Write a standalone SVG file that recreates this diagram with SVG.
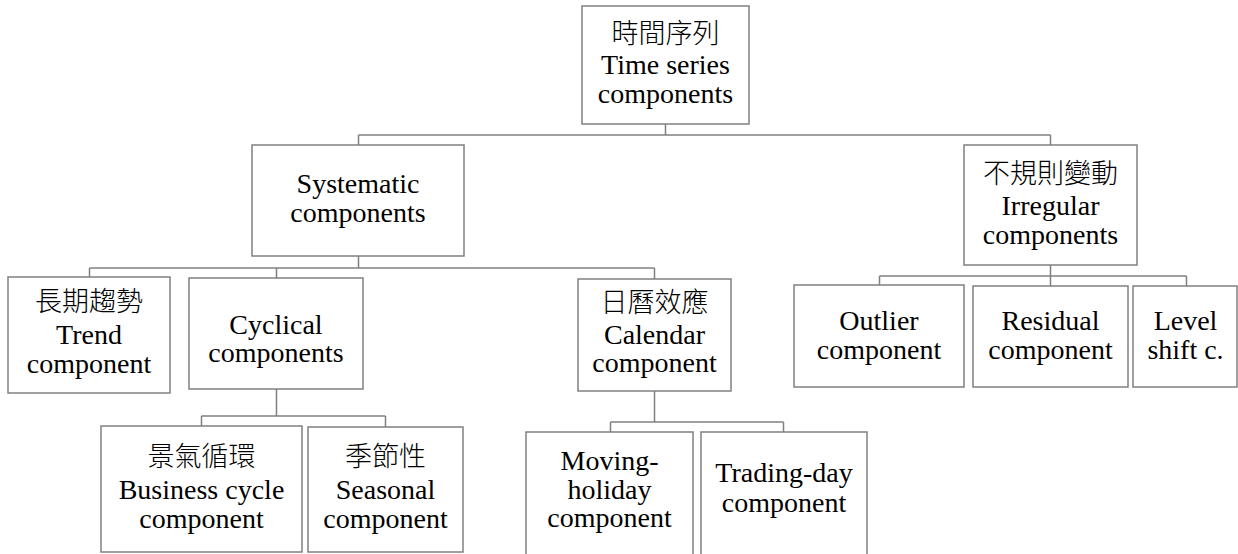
<svg xmlns="http://www.w3.org/2000/svg" width="1238" height="554" viewBox="0 0 1238 554">
  <style>
    .box { fill: #ffffff; stroke: #808080; stroke-width: 1.5; }
    .wire { fill: none; stroke: #808080; stroke-width: 1.5; }
    text { font-family: "Liberation Serif", "Noto Sans CJK TC", serif; font-size: 28px; fill: #000000; text-anchor: middle; }
    .cjk { font-family: "Noto Sans CJK TC", "Liberation Serif", sans-serif; font-size: 27px; font-weight: 300; }
  </style>
  <rect x="0" y="0" width="1238" height="554" fill="#ffffff"/>

  <!-- tree connectors -->
  <g id="connectors" class="wire">
    <path d="M665.5 124 V135 M358.5 135 H1050.5 M358.5 135 V145 M1050.5 135 V145"/>
    <path d="M358.5 256 V268 M89.5 268 H654.5 M89.5 268 V277 M276.5 268 V278 M654.5 268 V279"/>
    <path d="M276.5 389 V416 M201.5 416 H385.5 M201.5 416 V426 M385.5 416 V427"/>
    <path d="M654.5 391 V422 M610.5 422 H783.5 M610.5 422 V432 M783.5 422 V432"/>
    <path d="M1050.5 265 V276 M879.5 276 H1186.5 M879.5 276 V285 M1050.5 276 V286 M1186.5 276 V286"/>
  </g>

  <g id="node-root">
    <rect class="box" x="582" y="6" width="167" height="118"/>
    <text class="cjk" x="665.5" y="43">時間序列</text>
    <text x="665.5" y="74">Time series</text>
    <text x="665.5" y="103">components</text>
  </g>

  <g id="node-systematic">
    <rect class="box" x="252" y="145" width="212" height="111"/>
    <text x="358" y="193">Systematic</text>
    <text x="358" y="222">components</text>
  </g>

  <g id="node-irregular">
    <rect class="box" x="964" y="145" width="173" height="120"/>
    <text class="cjk" x="1050.5" y="183">不規則變動</text>
    <text x="1050.5" y="215">Irregular</text>
    <text x="1050.5" y="243.5">components</text>
  </g>

  <g id="node-trend">
    <rect class="box" x="8" y="277" width="162" height="116"/>
    <text class="cjk" x="89" y="311">長期趨勢</text>
    <text x="89" y="344">Trend</text>
    <text x="89" y="373">component</text>
  </g>

  <g id="node-cyclical">
    <rect class="box" x="189" y="278" width="174" height="111"/>
    <text x="276" y="334">Cyclical</text>
    <text x="276" y="362">components</text>
  </g>

  <g id="node-calendar">
    <rect class="box" x="578" y="279" width="153" height="112"/>
    <text class="cjk" x="654.5" y="312">日曆效應</text>
    <text x="654.5" y="344">Calendar</text>
    <text x="654.5" y="372">component</text>
  </g>

  <g id="node-outlier">
    <rect class="box" x="794" y="285" width="170" height="102"/>
    <text x="879" y="330">Outlier</text>
    <text x="879" y="358.5">component</text>
  </g>

  <g id="node-residual">
    <rect class="box" x="973" y="286" width="155" height="101"/>
    <text x="1050.5" y="330">Residual</text>
    <text x="1050.5" y="358.5">component</text>
  </g>

  <g id="node-level-shift">
    <rect class="box" x="1133" y="286" width="104" height="101"/>
    <text x="1185.5" y="330">Level</text>
    <text x="1185.5" y="358.5">shift c.</text>
  </g>

  <g id="node-business-cycle">
    <rect class="box" x="101" y="426" width="201" height="126"/>
    <text class="cjk" x="201.5" y="466">景氣循環</text>
    <text x="201.5" y="498.5">Business cycle</text>
    <text x="201.5" y="527.5">component</text>
  </g>

  <g id="node-seasonal">
    <rect class="box" x="308" y="427" width="155" height="125"/>
    <text class="cjk" x="385.5" y="466">季節性</text>
    <text x="385.5" y="498.5">Seasonal</text>
    <text x="385.5" y="527.5">component</text>
  </g>

  <g id="node-moving-holiday">
    <rect class="box" x="526" y="432" width="167" height="130"/>
    <text x="609.5" y="470">Moving-</text>
    <text x="609.5" y="498.5">holiday</text>
    <text x="609.5" y="527">component</text>
  </g>

  <g id="node-trading-day">
    <rect class="box" x="701" y="432" width="166" height="130"/>
    <text x="784" y="482">Trading-day</text>
    <text x="784" y="511.5">component</text>
  </g>
</svg>
